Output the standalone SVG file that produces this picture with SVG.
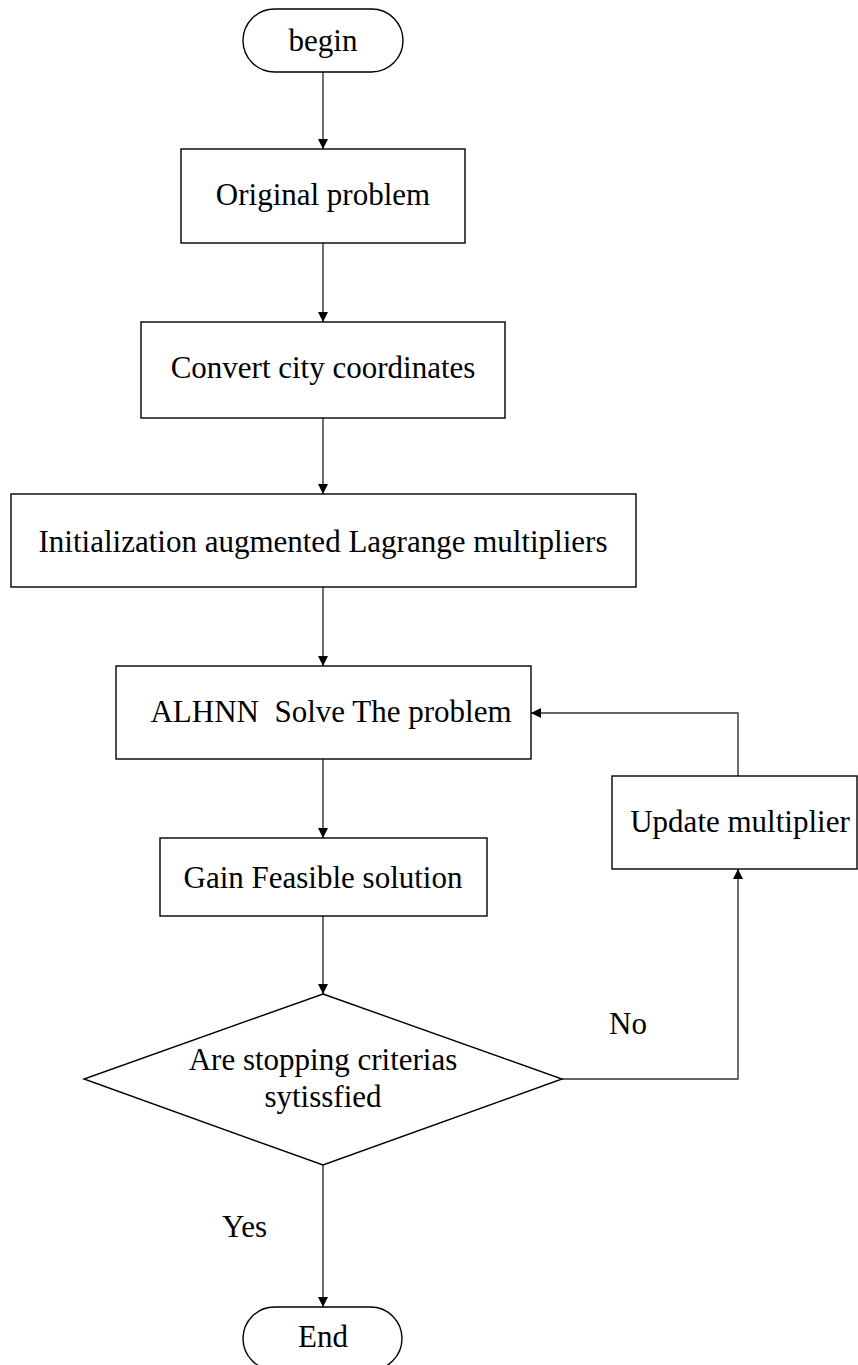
<svg xmlns="http://www.w3.org/2000/svg" width="858" height="1365" viewBox="0 0 858 1365">
<style>
.shape{fill:#fff;stroke:#000;stroke-width:1.4}
.t{font-family:"Liberation Serif","Times New Roman",serif;font-size:31px;fill:#000;text-anchor:middle}
.lbl{font-family:"Liberation Serif","Times New Roman",serif;font-size:31px;fill:#000}
.c{fill:none;stroke:#333;stroke-width:1.4}
</style>
<defs>
<marker id="arr" viewBox="0 0 10 10" refX="10" refY="5" markerWidth="10" markerHeight="10" markerUnits="userSpaceOnUse" orient="auto">
<path d="M0,0 L10,5 L0,10 z" fill="#000"/>
</marker>
</defs>
<rect width="858" height="1365" fill="#fff"/>
<g id="connectors">
<line class="c" x1="323" y1="72" x2="323" y2="149" marker-end="url(#arr)"/>
<line class="c" x1="323" y1="243" x2="323" y2="322" marker-end="url(#arr)"/>
<line class="c" x1="323" y1="418" x2="323" y2="494" marker-end="url(#arr)"/>
<line class="c" x1="323" y1="587" x2="323" y2="666" marker-end="url(#arr)"/>
<line class="c" x1="323" y1="759" x2="323" y2="838" marker-end="url(#arr)"/>
<line class="c" x1="323" y1="916" x2="323" y2="994" marker-end="url(#arr)"/>
<line class="c" x1="323" y1="1165" x2="323" y2="1307" marker-end="url(#arr)"/>
<polyline class="c" points="562,1079 738,1079 738,869" marker-end="url(#arr)"/>
<polyline class="c" points="738,776 738,713 531,713" marker-end="url(#arr)"/>
</g>
<g id="begin">
<rect class="shape" x="243" y="9" width="160" height="63" rx="31.5" ry="31.5"/>
<text class="t" x="323" y="51" font-size="30">begin</text>
</g>
<g id="original">
<rect class="shape" x="181" y="149" width="284" height="94"/>
<text class="t" x="323" y="205">Original problem</text>
</g>
<g id="convert">
<rect class="shape" x="141" y="322" width="364" height="96"/>
<text class="t" x="323" y="378">Convert city coordinates</text>
</g>
<g id="init">
<rect class="shape" x="11" y="494" width="625" height="93"/>
<text class="t" x="323" y="552" font-size="32">Initialization augmented Lagrange multipliers</text>
</g>
<g id="alhnn">
<rect class="shape" x="116" y="666" width="415" height="93"/>
<text class="t" x="331" y="722" font-size="32" xml:space="preserve">ALHNN  Solve The problem</text>
</g>
<g id="update">
<rect class="shape" x="612" y="776" width="245" height="93"/>
<text class="t" x="740" y="832" font-size="32">Update multiplier</text>
</g>
<g id="gain">
<rect class="shape" x="160" y="838" width="327" height="78"/>
<text class="t" x="323" y="888" font-size="32">Gain Feasible solution</text>
</g>
<g id="decision">
<polygon class="shape" points="323,994 562,1079 323,1165 84,1079"/>
<text class="t" x="323" y="1070">Are stopping criterias</text>
<text class="t" x="323" y="1107">sytissfied</text>
</g>
<g id="end">
<rect class="shape" x="243" y="1307" width="159" height="63" rx="31.5" ry="31.5"/>
<text class="t" x="323" y="1347" font-size="30">End</text>
</g>
<g id="labels">
<text class="lbl" x="609" y="1034" font-size="30">No</text>
<text class="lbl" x="222" y="1237">Yes</text>
</g>
</svg>
